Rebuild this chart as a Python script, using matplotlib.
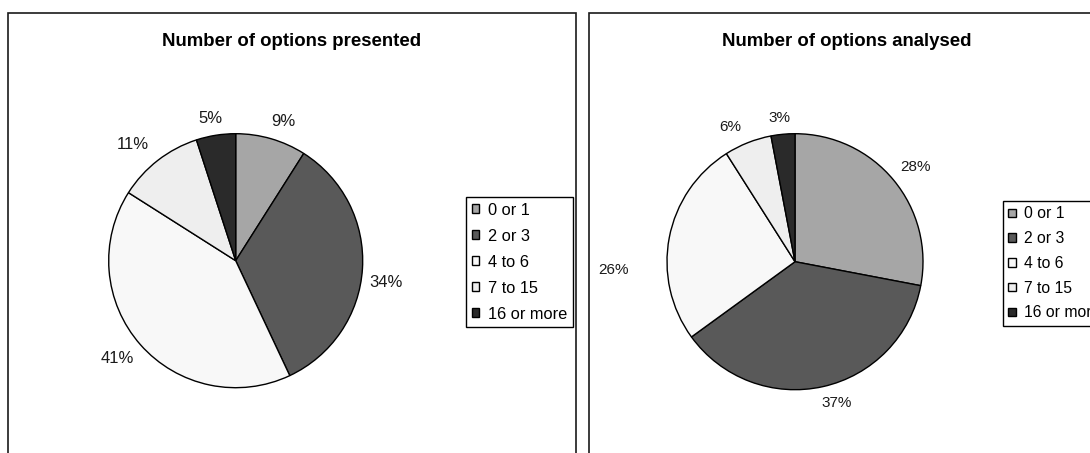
import matplotlib
matplotlib.use("Agg")
import matplotlib.pyplot as plt
from matplotlib.patches import Rectangle
from matplotlib.transforms import offset_copy
import numpy as np

# Answer groups shared by both pies
categories = ["0 or 1", "2 or 3", "4 to 6", "7 to 15", "16 or more"]

# Percentage of respondents in each group
presented = [9, 34, 41, 11, 5]
analysed = [28, 37, 26, 6, 3]

titles = ["Number of options presented", "Number of options analysed"]

colors = ["#a6a6a6", "#595959", "#f8f8f8", "#eeeeee", "#2a2a2a"]

W, H = 1090, 453
plt.rcParams["font.family"] = ["Liberation Sans", "DejaVu Sans"]
fig = plt.figure(figsize=(W / 100, H / 100), dpi=100)


def px_axes(cx, cy, r):
    """Square axes of radius r (pixels) centred at pixel (cx, cy) from top-left."""
    return fig.add_axes([(cx - r) / W, (H - cy - r) / H, 2 * r / W, 2 * r / H])


panels = [
    dict(values=presented, title=titles[0], frame=(8, 576), center=(235.7, 260.7),
         radius=127, label_size=12, legend_at=(466, 197), legend_size=11.8,
         legend_spacing=0.67,
         # extra pixel shift of individual value labels (right, up)
         label_nudge=[(0, 0), (-2, -5), (0, 0), (-3, 0), (2, 0)]),
    dict(values=analysed, title=titles[1], frame=(589, 1104), center=(795, 261.7),
         radius=128, label_size=11, legend_at=(1003, 201), legend_size=11.3,
         legend_spacing=0.62,
         label_nudge=[(0, 0), (2, 0), (-32, -42), (-3, 0), (0, 0)]),
]

for p in panels:
    x0, x1 = p["frame"]
    # chart-area border
    fig.add_artist(Rectangle((x0 / W, -0.2), (x1 - x0) / W, (H - 13) / H + 0.2,
                             transform=fig.transFigure, fill=False,
                             edgecolor="#1a1a1a", linewidth=1.2))
    fig.text((x0 + x1) / 2 / W, 1 - 46 / H, p["title"], ha="center", va="baseline",
             fontsize=13.4, fontweight="bold")

    ax = px_axes(*p["center"], p["radius"])
    vals = p["values"]
    wedges, _ = ax.pie(vals, colors=colors, startangle=90, counterclock=False,
                       wedgeprops=dict(edgecolor="black", linewidth=1.0))
    ax.set_xlim(-1, 1)
    ax.set_ylim(-1, 1)
    ax.set_aspect("equal")
    ax.axis("off")

    # value labels just outside the rim, text box pushed away from the pie
    total = float(sum(vals))
    cum = 0.0
    for v, (nx, ny) in zip(vals, p["label_nudge"]):
        mid = np.deg2rad(90 - 360 * (cum + v / 2) / total)
        cum += v
        ux, uy = np.cos(mid), np.sin(mid)
        d = 1.07
        fs_px = p["label_size"] * 100 / 72
        half_w = 0.5 * fs_px * (0.556 * len(str(v)) + 0.889)
        half_h = 0.5 * fs_px
        dx = half_w * np.clip(3 * ux, -1, 1) + nx
        dy = half_h * np.sign(uy) + ny
        tr = offset_copy(ax.transData, fig=fig, x=dx * 72 / 100, y=dy * 72 / 100,
                         units="points")
        ax.text(d * ux, d * uy, f"{v}%", ha="center", va="center", transform=tr,
                fontsize=p["label_size"], color="#1a1a1a")

    lx, ly = p["legend_at"]
    leg = ax.legend(wedges, categories, loc="upper left",
                    bbox_to_anchor=(lx / W, 1 - ly / H), bbox_transform=fig.transFigure,
                    frameon=True, fancybox=False, edgecolor="black", framealpha=1,
                    handlelength=0.45, handleheight=0.45, handletextpad=0.55,
                    borderpad=0.35, labelspacing=p["legend_spacing"], borderaxespad=0,
                    fontsize=p["legend_size"])
    leg.get_frame().set_linewidth(1.0)

fig.savefig("out.png", dpi=100)
